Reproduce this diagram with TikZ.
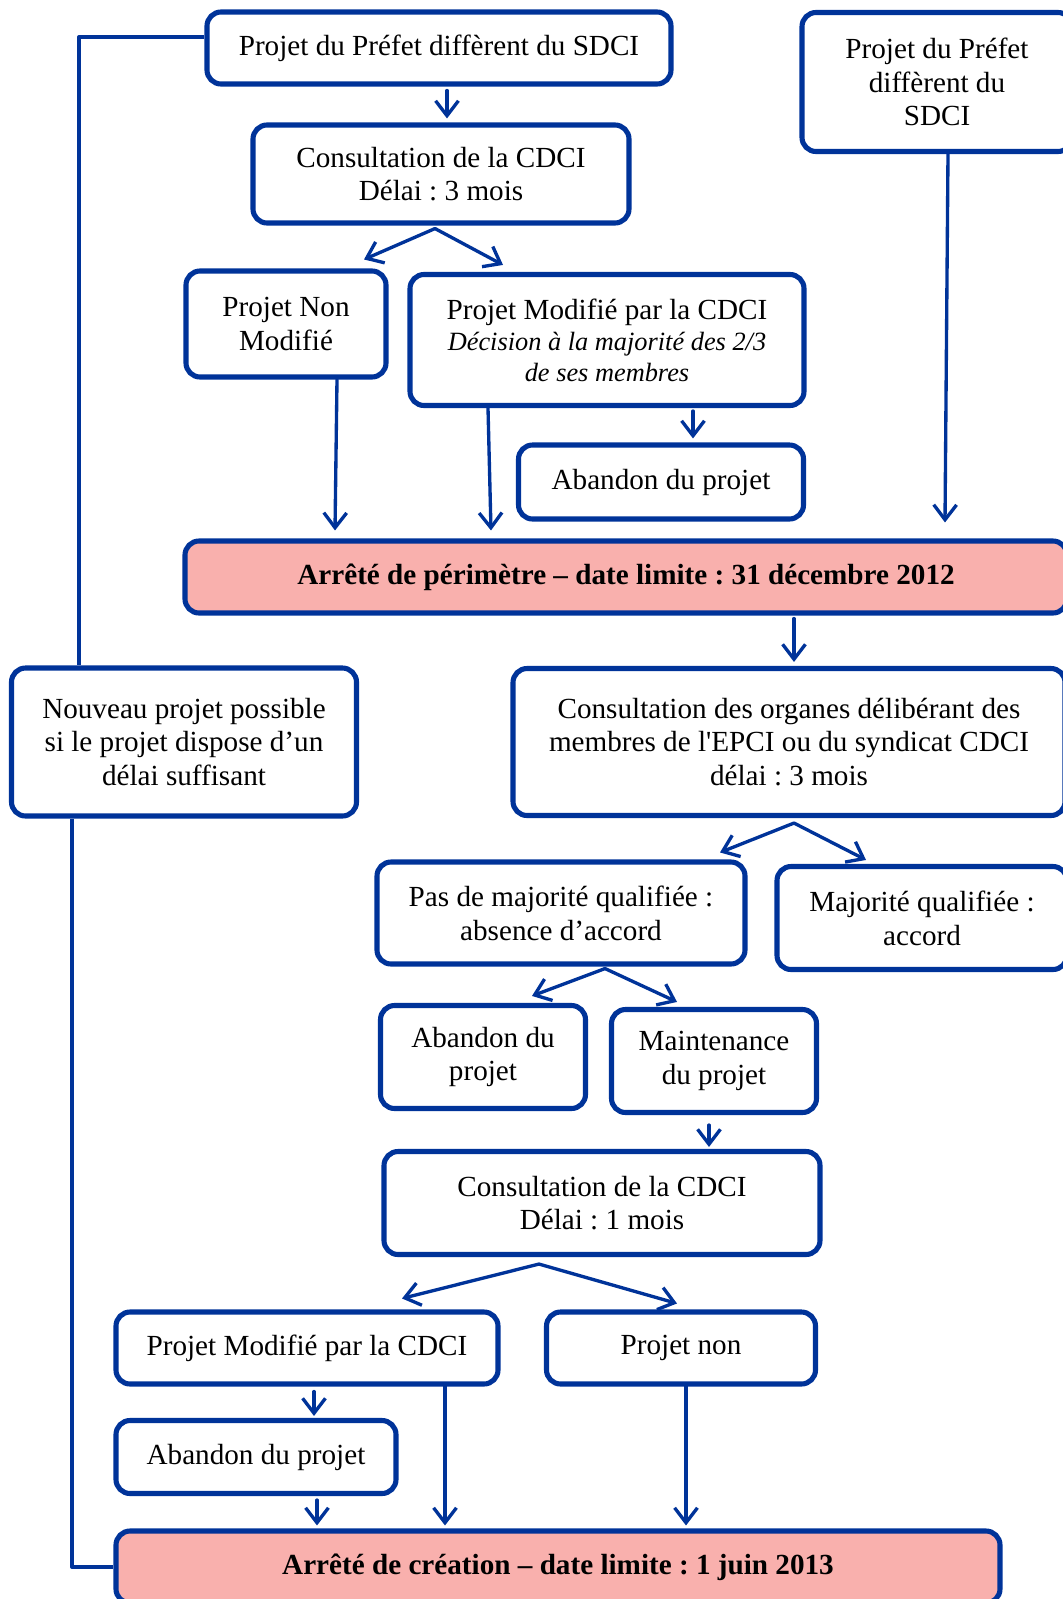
\documentclass[tikz,border=0pt]{standalone}
\usepackage{fontspec}
\setmainfont{Liberation Serif}[Ligatures=TeXOff]
\usepackage{tikz}
\usetikzlibrary{arrows.meta}
\usetikzlibrary{calc}

\definecolor{frameblue}{RGB}{0,51,153}
\definecolor{limitpink}{RGB}{249,176,173}
\frenchspacing

\begin{document}
\begin{tikzpicture}[x=0.02cm,y=-0.02cm,
    box/.style={draw=frameblue,line width=2.9pt,rounded corners=8pt,fill=white,
        align=center,inner sep=0pt,font=\fontsize{16.6}{19.2}\selectfont},
    limit/.style={box,fill=limitpink,font=\fontsize{16.6}{19.2}\selectfont\bfseries},
    boxsize/.style 2 args={minimum width=#1*0.02cm,minimum height=#2*0.02cm},
    arr/.style={frameblue,line width=1.9pt,line cap=round,line join=round,
        -{Straight Barb[length=8.5pt,width=13pt,line width=1.9pt]}},
    link/.style={frameblue,line width=1.9pt,line join=round}]
    \useasboundingbox (0,0) rectangle (1062,1599);

    % 方框
    \node[box,boxsize={464}{72}] (top) at (439,48) {Projet du Préfet diffèrent du SDCI};
    \node[box,boxsize={270}{139}] (prefet) at (937,82) {Projet du Préfet\\ diffèrent du\\ SDCI};
    \node[box,boxsize={376}{98}] (cons1) at (441,174) {Consultation de la CDCI\\ Délai : 3 mois};
    \node[box,boxsize={200}{106}] (nonmod) at (286,324) {Projet Non\\ Modifié};
    \node[box,boxsize={394}{131}] (modif) at (607,340) {Projet Modifié par la CDCI\\[-1.5pt]
        \fontsize{15}{17.3}\selectfont\itshape Décision à la majorité des 2/3\\[-1.5pt]
        \fontsize{15}{17.3}\selectfont\itshape de ses membres};
    \node[box,boxsize={285}{74}] (aband1) at (661,482) {Abandon du projet};
    \node[limit,boxsize={882}{72}] (perim) at (626,577) {Arrêté de périmètre – date limite : 31 décembre 2012};

    \node[box,boxsize={345}{148}] (nouveau) at (184,742) {Nouveau projet possible\\ si le projet dispose d’un\\ délai suffisant};
    \node[box,boxsize={552}{147}] (cons2) at (789,742) {Consultation des organes délibérant des\\ membres de l'EPCI ou du syndicat CDCI\\ délai : 3 mois};
    \node[box,boxsize={368}{102}] (pasmaj) at (561,913) {Pas de majorité qualifiée :\\ absence d’accord};
    \node[box,boxsize={290}{103}] (maj) at (922,918) {Majorité qualifiée :\\ accord};
    \node[box,boxsize={205}{103}] (aband2) at (483,1057) {Abandon du\\ projet};
    \node[box,boxsize={205}{103}] (maint) at (714,1061) {Maintenance\\ du projet};
    \node[box,boxsize={436}{103}] (cons3) at (602,1203) {Consultation de la CDCI\\ Délai : 1 mois};
    \node[box,boxsize={382}{72}] (modif2) at (307,1348) {Projet Modifié par la CDCI};
    \node[box,boxsize={269}{72}] (projnon) at (681,1348) {Projet non};
    \node[box,boxsize={280}{73}] (aband3) at (256,1457) {Abandon du projet};
    \node[limit,boxsize={884}{72}] (creation) at (558,1567) {Arrêté de création – date limite : 1 juin 2013};

    % 箭头
    \draw[arr] ($(top.south)+(8,4)$) -- ($(cons1.north)+(6,-4)$);
    \coordinate (s1) at ($(cons1.south)+(-6,3)$);
    \draw[arr] (s1) -- ($(nonmod.north)+(78,-9)$);
    \draw[arr] (s1) -- ($(modif.north)+(-104,-7)$);
    \draw[arr] ($(nonmod.south)+(51,0)$) -- ($(perim.north)+(-291,-8)$);
    \draw[arr] ($(modif.south)+(-119,0)$) -- ($(perim.north)+(-135,-8)$);
    \draw[arr] ($(modif.south)+(86,3)$) -- ($(aband1.north)+(32,-4)$);
    \draw[arr] ($(prefet.south)+(11,0)$) -- ($(perim.north)+(319,-16)$);
    \draw[link] ($(top.west)+(0,-11)$) -| ($(nouveau.north)+(-105,0)$);
    \draw[link] ($(nouveau.south)+(-112,0)$) |- (creation.west);

    \draw[arr] ($(perim.south)+(168,3)$) -- ($(cons2.north)+(5,-4)$);
    \coordinate (s2) at ($(cons2.south)+(5,5)$);
    \draw[arr] (s2) -- ($(pasmaj.north)+(159,-7)$);
    \draw[arr] (s2) -- ($(maj.north)+(-56,-4)$);
    \coordinate (s3) at ($(pasmaj.south)+(44,2)$);
    \draw[arr] (s3) -- ($(aband2.north)+(49,-7)$);
    \draw[arr] (s3) -- ($(maint.north)+(-37,-5)$);
    \draw[arr] ($(maint.south)+(-5,10)$) -- ($(cons3.north)+(107,-2)$);
    \coordinate (s4) at ($(cons3.south)+(-63,7)$);
    \draw[arr] (s4) -- ($(modif2.north)+(95,-11)$);
    \draw[arr] (s4) -- ($(projnon.north)+(-4,-6)$);
    \draw[arr] ($(modif2.south)+(7,5)$) -- ($(aband3.north)+(58,-2)$);
    \draw[arr] ($(aband3.south)+(61,4)$) -- ($(creation.north)+(-241,-3)$);
    \draw[arr] ($(modif2.south)+(138,0)$) -- ($(creation.north)+(-113,-3)$);
    \draw[arr] ($(projnon.south)+(5,0)$) -- ($(creation.north)+(128,-3)$);
\end{tikzpicture}
\end{document}
